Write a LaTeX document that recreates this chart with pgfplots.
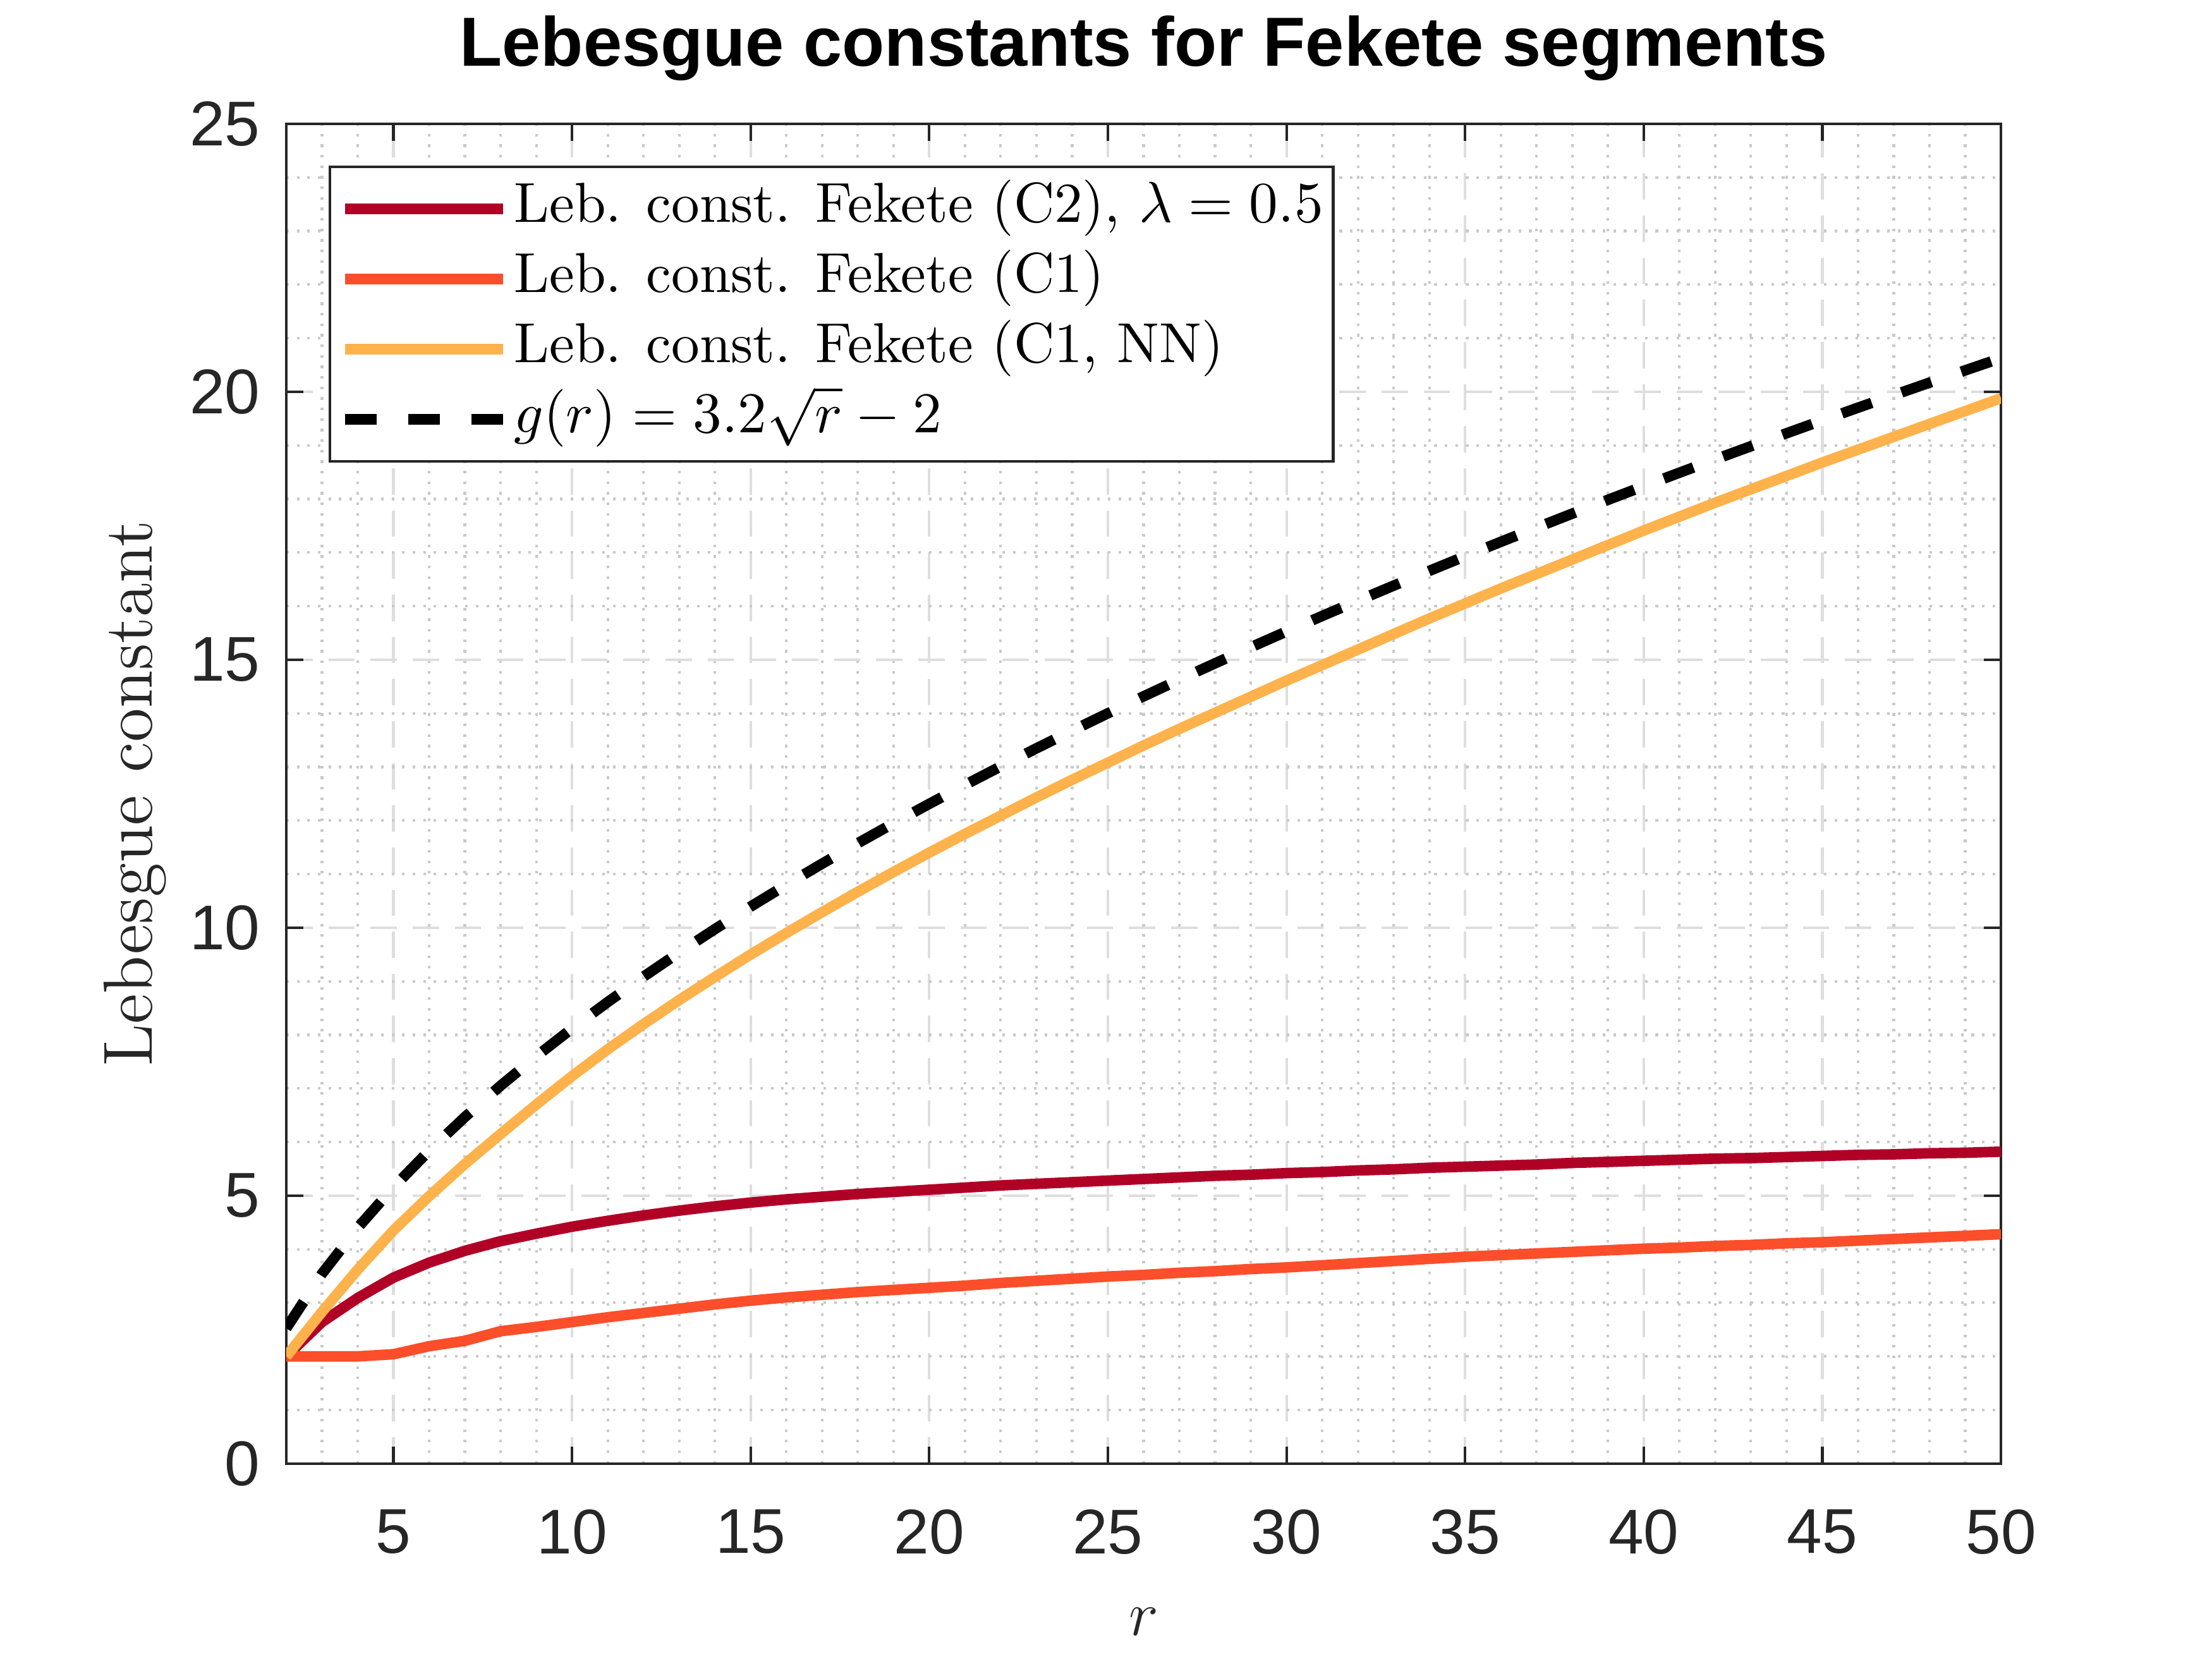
\documentclass[border=0pt]{standalone}
\usepackage{fontspec}
\usepackage{pgfplots}
\pgfplotsset{compat=1.18}
\newfontfamily\arial{Liberation Sans}
\definecolor{axcol}{RGB}{38,38,38}
\definecolor{gridmaj}{RGB}{222,222,222}
\definecolor{gridmin}{RGB}{201,201,201}
\definecolor{cA}{HTML}{B10026}
\definecolor{cB}{HTML}{FC4E2A}
\definecolor{cC}{HTML}{FEB24C}
\begin{document}
\begin{tikzpicture}
\useasboundingbox (-54.36pt,-37.08pt) rectangle (365.68pt,277.92pt);
\begin{axis}[
  at={(0,0)}, anchor=south west,
  scale only axis, width=325.6pt, height=254.4pt,
  xmin=2, xmax=50, ymin=0, ymax=25,
  xtick={5,10,...,50}, ytick={0,5,...,25},
  minor xtick={2,3,4,6,7,8,9,11,12,13,14,16,17,18,19,21,22,23,24,26,27,28,29,31,32,33,34,36,37,38,39,41,42,43,44,46,47,48,49},
  minor ytick={1,2,3,4,6,7,8,9,11,12,13,14,16,17,18,19,21,22,23,24},
  grid=both,
  major grid style={draw=gridmaj, line width=0.5pt, dash pattern=on 5pt off 3pt},
  minor grid style={draw=gridmin, line width=0.5pt, dash pattern=on 0.5pt off 1.5pt},
  axis line style={draw=axcol, line width=0.5pt},
  major tick style={draw=axcol, line width=0.5pt},
  major tick length=3.26pt, minor tick length=0pt,
  tick align=inside,
  /pgf/number format/assume math mode=true,
  ticklabel style={font=\fontsize{12}{14}\selectfont\arial, text=axcol},
  xticklabel style={anchor=north, inner sep=0pt, yshift=-8.5pt},
  yticklabel style={anchor=east, inner sep=0pt, xshift=-4.8pt},
  title={Lebesgue constants for Fekete segments},
  title style={font=\fontsize{13.2}{15}\selectfont\arial\bfseries, text=black, at={(axis description cs:0.5,1.0197)}, anchor=base, inner sep=0pt},
  xlabel={$r$},
  xlabel style={font=\fontsize{13.2}{15}\selectfont, text=axcol, at={(axis description cs:0.5,-0.1281)}, anchor=base, inner sep=0pt},
  ylabel={Lebesgue constant},
  ylabel style={font=\fontsize{13.2}{15}\selectfont, text=axcol, at={(axis description cs:-0.0881,0.5)}, anchor=center, inner sep=0pt},
  legend image code/.code={\draw[#1] (0pt,0pt) -- (30pt,0pt);},
  legend style={at={(axis description cs:0.0247,0.969)}, anchor=north west,
    draw=axcol, line width=0.5pt, fill=white, inner xsep=1.9pt, inner ysep=1.34pt,
    font=\fontsize{10.7}{13}\selectfont, text=black,
    cells={anchor=west},
    nodes={inner sep=0pt, minimum height=13.32pt, text height=0.75em, text depth=0.25em},
    /tikz/every odd column/.append style={column sep=1.1pt},
    row sep=0pt},
  every axis plot/.append style={line width=2pt, line join=round},
]
\addplot[cA] coordinates {(2,2.00)(3,2.64)(4,3.09)(5,3.47)(6,3.75)(7,3.97)(8,4.15)(9,4.29)(10,4.42)(11,4.53)(12,4.63)(13,4.72)(14,4.80)(15,4.87)(16,4.93)(17,4.98)(18,5.03)(19,5.07)(20,5.11)(21,5.15)(22,5.19)(23,5.22)(24,5.25)(25,5.28)(26,5.31)(27,5.34)(28,5.37)(29,5.39)(30,5.42)(31,5.44)(32,5.47)(33,5.49)(34,5.52)(35,5.54)(36,5.56)(37,5.58)(38,5.61)(39,5.63)(40,5.65)(41,5.67)(42,5.69)(43,5.70)(44,5.72)(45,5.74)(46,5.76)(47,5.77)(48,5.79)(49,5.80)(50,5.82)};
\addlegendentry{Leb. const. Fekete (C2), $\lambda = 0.5$}
\addplot[cB] coordinates {(2,2.00)(3,2.00)(4,2.00)(5,2.04)(6,2.19)(7,2.29)(8,2.47)(9,2.55)(10,2.64)(11,2.73)(12,2.81)(13,2.89)(14,2.97)(15,3.04)(16,3.10)(17,3.15)(18,3.20)(19,3.24)(20,3.28)(21,3.32)(22,3.37)(23,3.41)(24,3.45)(25,3.49)(26,3.52)(27,3.56)(28,3.59)(29,3.63)(30,3.66)(31,3.70)(32,3.74)(33,3.78)(34,3.82)(35,3.86)(36,3.89)(37,3.92)(38,3.95)(39,3.98)(40,4.01)(41,4.03)(42,4.06)(43,4.08)(44,4.11)(45,4.13)(46,4.16)(47,4.19)(48,4.22)(49,4.25)(50,4.28)};
\addlegendentry{Leb. const. Fekete (C1)}
\addplot[cC] coordinates {(2,2.00)(3,2.83)(4,3.62)(5,4.35)(6,4.99)(7,5.59)(8,6.15)(9,6.70)(10,7.23)(11,7.73)(12,8.20)(13,8.65)(14,9.08)(15,9.50)(16,9.90)(17,10.29)(18,10.67)(19,11.04)(20,11.40)(21,11.75)(22,12.09)(23,12.43)(24,12.76)(25,13.08)(26,13.40)(27,13.71)(28,14.01)(29,14.31)(30,14.61)(31,14.90)(32,15.19)(33,15.48)(34,15.77)(35,16.05)(36,16.33)(37,16.60)(38,16.87)(39,17.14)(40,17.41)(41,17.67)(42,17.93)(43,18.18)(44,18.43)(45,18.68)(46,18.92)(47,19.16)(48,19.40)(49,19.64)(50,19.88)};
\addlegendentry{Leb. const. Fekete (C1, NN)}
\addplot[black, dash pattern=on 6pt off 6pt, line cap=butt] coordinates {(2,2.5255)(3,3.5426)(4,4.4)(5,5.1554)(6,5.8384)(7,6.4664)(8,7.0510)(9,7.6)(10,8.1193)(11,8.6132)(12,9.0851)(13,9.5378)(14,9.9733)(15,10.3935)(16,10.8)(17,11.1940)(18,11.5765)(19,11.9485)(20,12.3108)(21,12.6642)(22,13.0093)(23,13.3467)(24,13.6767)(25,14)(26,14.3169)(27,14.6277)(28,14.9328)(29,15.2325)(30,15.5271)(31,15.8168)(32,16.1019)(33,16.3826)(34,16.6590)(35,16.9315)(36,17.2)(37,17.4648)(38,17.7261)(39,17.9840)(40,18.2386)(41,18.4900)(42,18.7384)(43,18.9838)(44,19.2264)(45,19.4662)(46,19.7035)(47,19.9381)(48,20.1703)(49,20.4)(50,20.6274)};
\addlegendentry{$g(r) = 3.2\sqrt{r} - 2$}
\end{axis}
\end{tikzpicture}
\end{document}
